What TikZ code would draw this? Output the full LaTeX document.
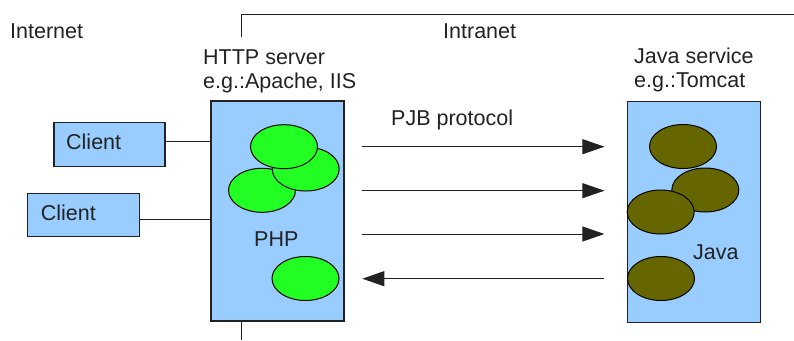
\documentclass[tikz,border=0pt]{standalone}
\usepackage{fontspec}
\setmainfont{Liberation Sans}
\usetikzlibrary{shapes.geometric,arrows.meta}
\definecolor{boxblue}{HTML}{99CCFF}
\definecolor{phpgreen}{HTML}{22FF22}
\definecolor{javaolive}{HTML}{666600}
\definecolor{inkgray}{HTML}{222222}
\begin{document}
\begin{tikzpicture}[x=1pt,y=-1pt,
  txt/.style={inner sep=0pt,anchor=base west,text=inkgray,font=\fontsize{21.5}{25}\selectfont},
  bluebox/.style={draw=inkgray,line width=1.2pt,fill=boxblue,inner sep=0pt},
  blob/.style={ellipse,draw=black,line width=1pt,inner sep=0pt,minimum width=67pt,minimum height=44pt},
  phpblob/.style={blob,fill=phpgreen},
  javablob/.style={blob,fill=javaolive},
  wire/.style={draw=inkgray,line width=1pt},
  arr/.style={wire,-{Triangle[length=22pt,width=15pt]}}]
\useasboundingbox (0,0) rectangle (794,340);
% zones
\node[txt] (internet) at (10,38) {Internet};
\node[txt] (intranet) at (443,38) {Intranet};
\coordinate (brk) at (241,37);
\coordinate (brkend) at (794,14);
\draw[wire] (brk) |- (brkend);
% HTTP server
\node[bluebox,minimum width=133pt,minimum height=220pt] (http) at (277.5,211) {};
\coordinate (sep) at (241,340);
\draw[wire] (http.south -| sep) -- (sep);
\node[txt] (httpl1) at (203,64) {HTTP server};
\node[txt] (httpl2) at (203,88) {e.g.:Apache, IIS};
\node[phpblob] (p3) at (262,190.3) {};
\node[phpblob] (p2) at (305.7,169) {};
\node[phpblob] (p1) at (284,146.7) {};
\node[phpblob] (p4) at (305.5,278.5) {};
\node[txt] (php) at (254,246) {PHP};
% clients
\node[bluebox,minimum width=111pt,minimum height=44pt] (client1) at (109.5,144.7) {};
\node[txt] (client1l) at (66,149) {Client};
\node[bluebox,minimum width=111.6pt,minimum height=43.4pt] (client2) at (83.5,215) {};
\node[txt] (client2l) at (40.7,220) {Client};
\draw[wire] ([yshift=3pt]client1.east) -- ([yshift=3pt]client1.east -| http.west);
\draw[wire] ([yshift=-4pt]client2.east) -- ([yshift=-4pt]client2.east -| http.west);
% Java service
\node[bluebox,minimum width=133.4pt,minimum height=221pt] (java) at (694,212.2) {};
\node[txt] (javal1) at (634,63) {Java service};
\node[txt] (javal2) at (634,87) {e.g.:Tomcat};
\node[javablob] (j1) at (683,146.5) {};
\node[javablob] (j2) at (705.3,190) {};
\node[javablob] (j3) at (660.7,212) {};
\node[javablob] (j4) at (661,278.5) {};
\node[txt] (javat) at (693,259) {Java};
% protocol
\node[txt] (pjb) at (391,125) {PJB protocol};
\coordinate (row1) at (0,146.7);
\coordinate (row2) at (0,190.7);
\coordinate (row3) at (0,234);
\coordinate (row4) at (0,278.7);
\draw[arr] ([xshift=17.7pt]http.east |- row1) -- ([xshift=-22.3pt]java.west |- row1);
\draw[arr] ([xshift=17.7pt]http.east |- row2) -- ([xshift=-22.3pt]java.west |- row2);
\draw[arr] ([xshift=17.7pt]http.east |- row3) -- ([xshift=-22.3pt]java.west |- row3);
\draw[arr] ([xshift=-22.3pt]java.west |- row4) -- ([xshift=17.7pt]http.east |- row4);
\end{tikzpicture}
\end{document}
